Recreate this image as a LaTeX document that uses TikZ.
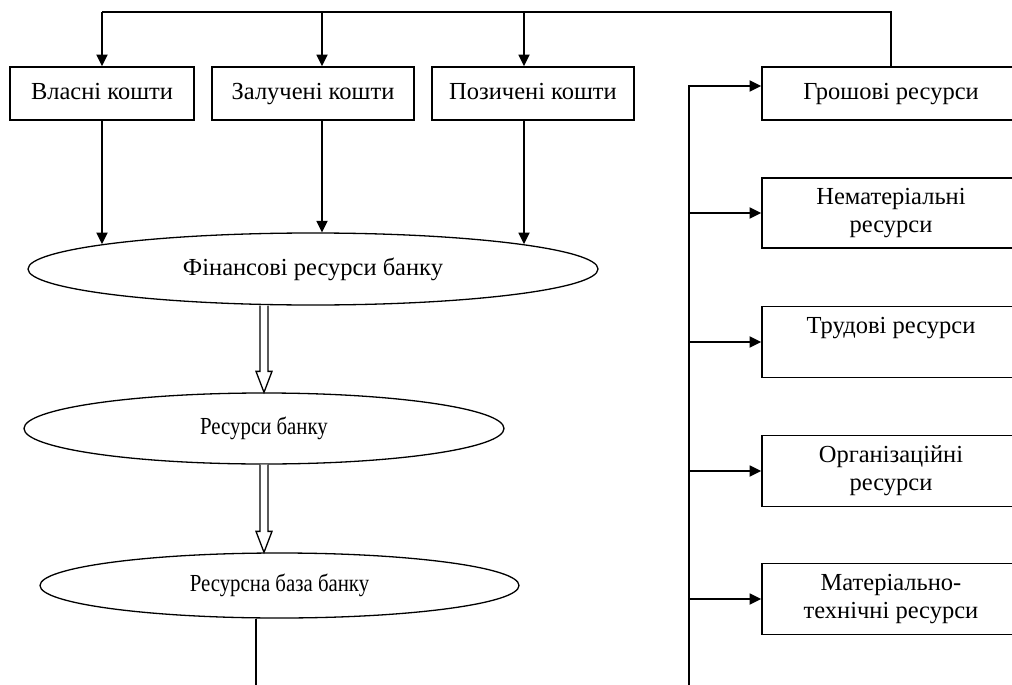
\documentclass[tikz,border=0pt]{standalone}
\usepackage{fontspec}
\setmainfont{Liberation Serif}
\newfontfamily\condfont[FakeStretch=0.85]{Liberation Serif}
\usetikzlibrary{arrows.meta,calc,shapes.geometric}
\begin{document}
\begin{tikzpicture}[x=1pt,y=-1pt,
  txt/.style={font=\fontsize{24.5}{28}\selectfont},
  box/.style={txt, draw, line width=1.6pt, rectangle, inner sep=0pt, align=center},
  one/.style={text height=17pt, text depth=5pt},
  topbox/.style={box, one, minimum height=53pt},
  rbox/.style={box, minimum width=258pt, minimum height=71pt},
  oval/.style={txt, one, draw, line width=1.3pt, ellipse, inner sep=0pt},
  conn/.style={line width=1.8pt},
  arr/.style={conn, -{Triangle[length=11.5pt,width=11pt]}},
  hollow/.style={draw, fill=white, line width=1.3pt, line join=miter},
]
\useasboundingbox (0,0) rectangle (1012,685);
\clip (0,0) rectangle (1012,685);

% top row boxes
\node[topbox, minimum width=184pt] (b1) at (102,93.5) {Власні кошти};
\node[topbox, minimum width=202pt] (b2) at (313,93.5) {Залучені кошти};
\node[topbox, minimum width=202pt] (b3) at (533,93.5) {Позичені кошти};

% right column boxes
\node[rbox, one, minimum height=53pt] (g1) at (891,93.5) {Грошові ресурси};
\node[rbox, minimum height=70pt] (g2) at (891,213) {Нематеріальні\\ресурси};
\node[rbox] (g3) at (891,342) {Трудові ресурси\\\phantom{ресурси}};
\node[rbox] (g4) at (891,471) {Організаційні\\ресурси};
\node[rbox] (g5) at (891,599) {Матеріально-\\технічні ресурси};

% ellipses
\node[oval, minimum width=570pt, minimum height=72pt] (e1) at (313,269) {Фінансові ресурси банку};
\node[oval, minimum width=480pt, minimum height=71pt] (e2) at (264,428.5) {\condfont Ресурси банку};
\node[oval, minimum width=479pt, minimum height=65pt] (e3) at (279.5,585.5) {\condfont Ресурсна база банку};

% top distribution line
\coordinate (c1) at (102,12);
\coordinate (c2) at (322,12);
\coordinate (c3) at (524,12);
\draw[conn] (g1.north) |- (c1);
\draw[arr] (c1) -- (b1.north -| c1);
\draw[arr] (c2) -- (b2.north -| c2);
\draw[arr] (c3) -- (b3.north -| c3);

% boxes to first ellipse (ending on its border)
\draw[arr] (b1.south -| c1) -- ($(c1 |- e1.north)+(0,11.8)$);
\draw[arr] (b2.south -| c2) -- (c2 |- e1.north);
\draw[arr] (b3.south -| c3) -- ($(c3 |- e1.north)+(0,11.8)$);

% hollow arrows
\draw[hollow] let \p1=(e1.south -| e2.north), \p2=(e2.north) in
  (\x1-4pt,\y1) -- (\x1-4pt,\y2+21pt) -- (\x1-8pt,\y2+21pt) -- (\x2,\y2)
  -- (\x1+8pt,\y2+21pt) -- (\x1+4pt,\y2+21pt) -- (\x1+4pt,\y1);
\draw[hollow] let \p1=(e2.south), \p2=(e3.north -| e2.south) in
  (\x1-4pt,\y1) -- (\x1-4pt,\y2+21pt) -- (\x1-8pt,\y2+21pt) -- (\x2,\y2)
  -- (\x1+8pt,\y2+21pt) -- (\x1+4pt,\y2+21pt) -- (\x1+4pt,\y1);

% line below last ellipse
\coordinate (bl) at (256,685);
\draw[line width=1.1pt] (e3.south -| bl) -- (bl);

% right bus
\coordinate (rb) at (689,685);
\coordinate (g1in) at ($(g1.west)+(0,-7.5)$);
\draw[arr] (rb) |- (g1in);
\draw[arr] (g2.west -| rb) -- (g2.west);
\draw[arr] (g3.west -| rb) -- (g3.west);
\draw[arr] (g4.west -| rb) -- (g4.west);
\draw[arr] (g5.west -| rb) -- (g5.west);
\end{tikzpicture}
\end{document}
